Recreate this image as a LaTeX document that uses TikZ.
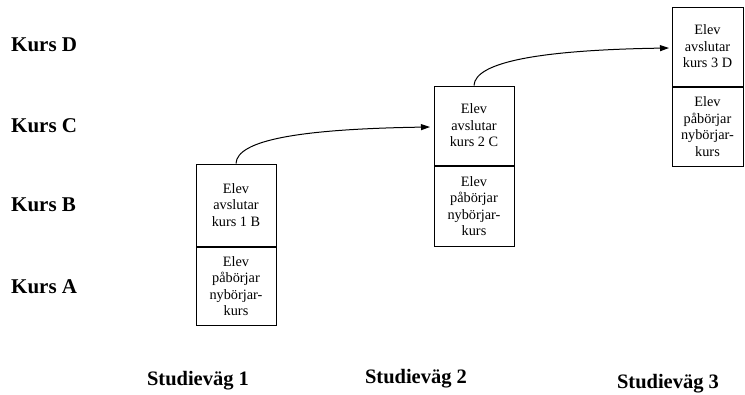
\documentclass[tikz,border=0pt]{standalone}
\usepackage{fontspec}
\setmainfont{Liberation Serif}
\usetikzlibrary{arrows.meta}
\begin{document}
\begin{tikzpicture}[x=1pt,y=-1pt,
  half/.style={draw, line width=1pt, minimum width=80pt, inner sep=0pt, align=center,
    font=\fontsize{14.3}{16.5}\selectfont},
  lbl/.style={anchor=west, font=\fontsize{21}{24}\selectfont\bfseries, inner sep=0pt},
  stud/.style={font=\fontsize{20.5}{24}\selectfont\bfseries, inner sep=0pt},
  arr/.style={line width=1pt, -{Triangle[length=9pt,width=6pt]}}]
\useasboundingbox (0,0) rectangle (745,394);
% row labels
\node[lbl] (kd) at (11,45) {Kurs D};
\node[lbl] (kc) at (11,126) {Kurs C};
\node[lbl] (kb) at (11,205) {Kurs B};
\node[lbl] (ka) at (11,287) {Kurs A};
% boxes
\node[half, minimum height=82pt] (b1t) at (236,205) {Elev\\avslutar\\kurs 1 B};
\node[half, minimum height=78pt, anchor=north] (b1b) at (b1t.south) {Elev\\påbörjar\\nybörjar-\\kurs};
\node[half, minimum height=79pt] (b2t) at (474,125.5) {Elev\\avslutar\\kurs 2 C};
\node[half, minimum height=80pt, anchor=north] (b2b) at (b2t.south) {Elev\\påbörjar\\nybörjar-\\kurs};
\node[half, minimum width=71pt, minimum height=79pt] (b3t) at (707.5,46.5) {Elev\\avslutar\\kurs 3 D};
\node[half, minimum width=71pt, minimum height=79pt, anchor=north] (b3b) at (b3t.south) {Elev\\påbörjar\\nybörjar-\\kurs};
% arrows
\coordinate (e1) at (430,127);
\coordinate (e2) at (669,48);
\draw[arr] (b1t.north) .. controls (237,140) and (300,129) .. (e1);
\draw[arr] (b2t.north) .. controls (475,62) and (540,50) .. (e2);
% bottom labels
\node[stud] (s1) at (198,381) {Studieväg 1};
\node[stud] (s2) at (416,379) {Studieväg 2};
\node[stud] (s3) at (668,384) {Studieväg 3};
\end{tikzpicture}
\end{document}
